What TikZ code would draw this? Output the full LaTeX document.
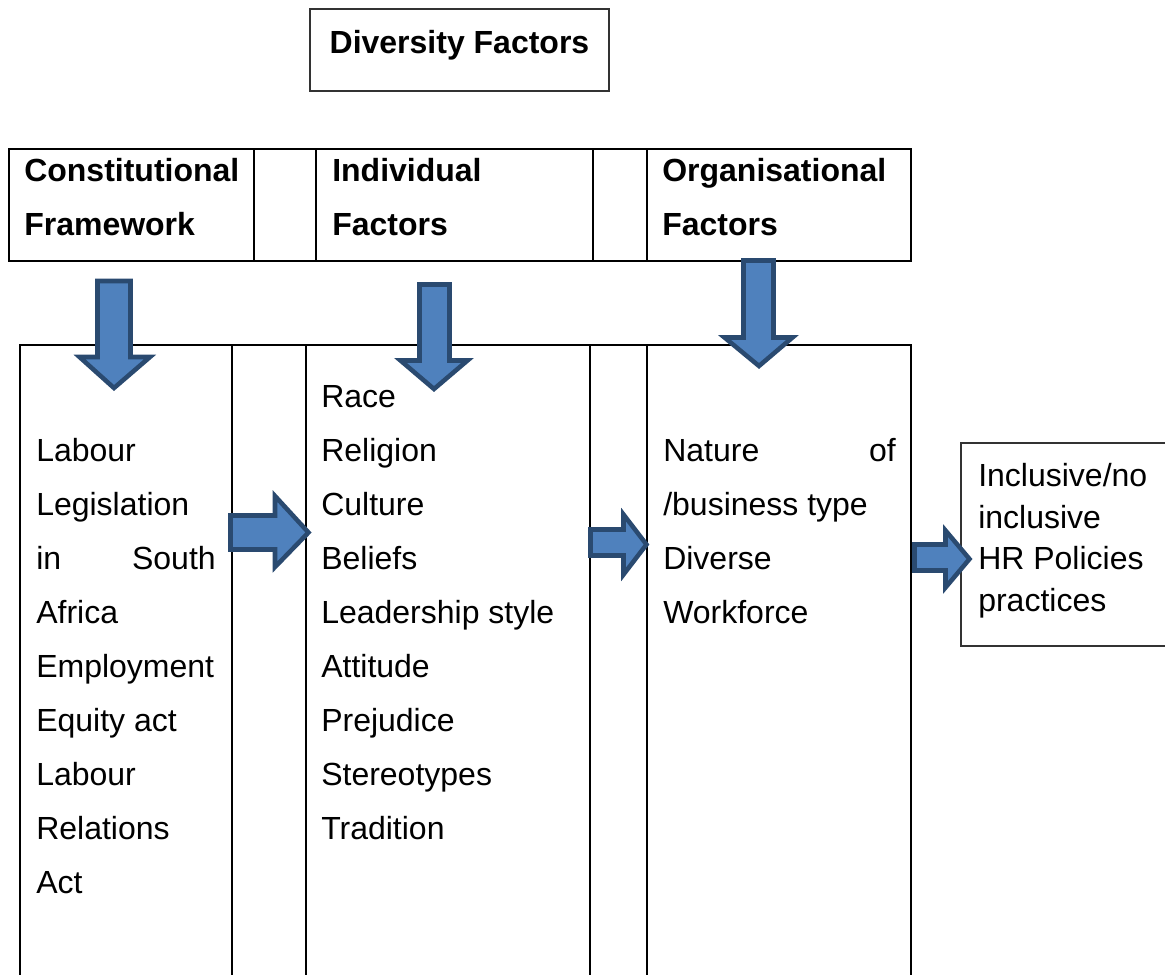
\documentclass[tikz,border=0pt]{standalone}
\usepackage{fontspec}
\setmainfont{Liberation Sans}
\definecolor{arrowfill}{HTML}{4F81BD}
\definecolor{arrowline}{HTML}{2A4A70}
\begin{document}
\begin{tikzpicture}[x=0.75pt,y=-0.75pt,
  rule/.style={line width=1.5pt, draw=black},
  thinbox/.style={line width=0.9pt, draw=black!80},
  blockarrow/.style={fill=arrowfill, draw=arrowline, line width=3.4pt, line join=miter},
  txt/.style={anchor=base west, inner sep=0pt, font=\fontsize{24}{28}\selectfont},
  txtr/.style={txt, anchor=base east},
  head/.style={txt, font=\fontsize{24}{28}\selectfont\bfseries}]
\useasboundingbox (0,0) rectangle (1165,975);

% title box
\draw[thinbox] (310,9) rectangle (609,91);
\node[head, anchor=base] (title) at (459.5,53) {Diversity Factors};

% header row
\draw[rule] (9,149) rectangle (911,261);
\draw[rule] (254,149) -- (254,261) (316,149) -- (316,261)
            (593,149) -- (593,261) (647,149) -- (647,261);
\node[head] (h1a) at (24,181.5) {Constitutional};
\node[head] (h1b) at (24,235.5) {Framework};
\node[head] (h2a) at (332,181.5) {Individual};
\node[head] (h2b) at (332,235.5) {Factors};
\node[head] (h3a) at (662,181.5) {Organisational};
\node[head] (h3b) at (662,235.5) {Factors};

% lower columns (continue past the bottom edge)
\draw[rule] (20,990) -- (20,345) -- (911,345) -- (911,990);
\draw[rule] (232,345) -- (232,990) (306,345) -- (306,990)
            (590,345) -- (590,990) (647,345) -- (647,990);

% outcome box (continues past the right edge)
\draw[thinbox] (1180,443) -- (961,443) -- (961,646) -- (1180,646);

% column 1
\node[txt] (c1a) at (36,461) {Labour};
\node[txt] (c1b) at (36,515) {Legislation};
\node[txt] (c1c) at (36,569) {in};
\node[txtr] (c1d) at (216,569) {South};
\node[txt] (c1e) at (36,623) {Africa};
\node[txt] (c1f) at (36,677) {Employment};
\node[txt] (c1g) at (36,731) {Equity act};
\node[txt] (c1h) at (36,785) {Labour};
\node[txt] (c1i) at (36,839) {Relations};
\node[txt] (c1j) at (36,893) {Act};

% column 2
\node[txt] (c2a) at (321,407) {Race};
\node[txt] (c2b) at (321,461) {Religion};
\node[txt] (c2c) at (321,515) {Culture};
\node[txt] (c2d) at (321,569) {Beliefs};
\node[txt] (c2e) at (321,623) {Leadership style};
\node[txt] (c2f) at (321,677) {Attitude};
\node[txt] (c2g) at (321,731) {Prejudice};
\node[txt] (c2h) at (321,785) {Stereotypes};
\node[txt] (c2i) at (321,839) {Tradition};

% column 3
\node[txt] (c3a) at (663,461) {Nature};
\node[txtr] (c3b) at (896,461) {of};
\node[txt] (c3c) at (663,515) {/business type};
\node[txt] (c3d) at (663,569) {Diverse};
\node[txt] (c3e) at (663,623) {Workforce};

% outcome text
\node[txt] (o1) at (978,486) {Inclusive/no};
\node[txt] (o2) at (978,528) {inclusive};
\node[txt] (o3) at (978,569) {HR Policies};
\node[txt] (o4) at (978,611) {practices};

% block arrows pointing down
\draw[blockarrow] (97.5,281) -- (130.5,281) -- (130.5,357) -- (150,357) -- (114,388)
  -- (79.5,357) -- (97.5,357) -- cycle;
\draw[blockarrow] (419.5,284.5) -- (449.5,284.5) -- (449.5,360.5) -- (467.5,360.5) -- (434,389)
  -- (400.5,360.5) -- (419.5,360.5) -- cycle;
\draw[blockarrow] (743.5,260.5) -- (773.5,260.5) -- (773.5,337.5) -- (792.5,337.5) -- (759,366)
  -- (724.5,337.5) -- (743.5,337.5) -- cycle;

% block arrows pointing right
\draw[blockarrow] (230.5,515.5) -- (275,515.5) -- (275,496) -- (308.5,532.5) -- (275,567)
  -- (275,549.5) -- (230.5,549.5) -- cycle;
\draw[blockarrow] (590.5,529.5) -- (623.5,529.5) -- (623.5,514.5) -- (646.5,544.5) -- (623.5,574.5)
  -- (623.5,555.5) -- (590.5,555.5) -- cycle;
\draw[blockarrow] (914.5,544.5) -- (945.5,544.5) -- (945.5,530.5) -- (969.5,559) -- (945.5,587.5)
  -- (945.5,570.5) -- (914.5,570.5) -- cycle;
\end{tikzpicture}
\end{document}
